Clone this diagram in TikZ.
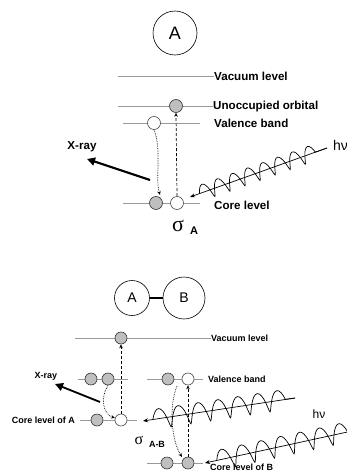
\documentclass[tikz,border=0pt]{standalone}
\usepackage{fontspec}
\setmainfont{Liberation Sans}
\newfontfamily\grk{Liberation Serif}
\usetikzlibrary{decorations.pathmorphing,calc,arrows.meta}
\begin{document}
\begin{tikzpicture}[x=1pt,y=-1pt,
 lvl/.style={draw=black!40, line width=0.7pt},
 full/.style={circle, draw=black!80, fill=black!25, line width=0.6pt, minimum size=13pt, inner sep=0pt},
 empty/.style={circle, draw=black!70, fill=white, line width=0.6pt, minimum size=13pt, inner sep=0pt},
 sfull/.style={full, minimum size=12pt},
 sempty/.style={empty, minimum size=12pt},
 lab/.style={anchor=west, inner sep=0pt, font=\bfseries\fontsize{11.6}{12}\selectfont},
 slab/.style={anchor=west, inner sep=0pt, font=\bfseries\fontsize{9}{9}\selectfont},
 atom/.style={circle, draw, line width=0.6pt, inner sep=0pt},
 exc/.style={densely dashed, line width=0.7pt, -{Stealth[length=4pt,width=3.5pt]}},
 decay/.style={densely dotted, line width=0.7pt, -{Stealth[length=4pt,width=3.5pt]}},
 xray/.style={line width=2.2pt, -{Triangle[length=8pt,width=8pt]}},
 photon/.style={line width=0.7pt, -{Stealth[length=5pt,width=4pt]}},
 coilA/.style={decorate, line width=0.7pt, decoration={coil, amplitude=8pt, segment length=16pt, aspect=0.2}},
 coilB/.style={decorate, line width=0.7pt, decoration={coil, amplitude=10pt, segment length=20pt, aspect=0.2}},
]
\useasboundingbox (0,0) rectangle (347,474);

% ---------------- top: single atom A
\node[atom, minimum size=44pt, font=\fontsize{18}{18}\selectfont] (atA) at (175,33) {A};

\coordinate (vacL) at (118,76);
\node[lab] (vacT) at (214,76) {Vacuum level};
\draw[lvl] (vacL) -- (vacT.west);

\coordinate (unL) at (118,106);
\node[lab] (unT) at (213,106) {Unoccupied orbital};
\draw[lvl] (unL) -- (unT.west);
\node[full] (unE) at (176,106) {};

\coordinate (valL) at (123,123);
\coordinate (valR) at (200,123);
\draw[lvl] (valL) -- (valR);
\node[lab] (valT) at (214,123) {Valence band};
\node[empty] (valH) at (154,123) {};

\coordinate (corL) at (123,203);
\coordinate (corR) at (200,203);
\draw[lvl] (corL) -- (corR);
\node[lab] (corT) at (214,205) {Core level};
\node[full] (corE) at (156,203) {};
\node[empty] (corH) at (177,203) {};

\draw[exc] (corH.north) -- (unE.south);
\draw[decay] (valH.south) .. controls (162,150) and (155,178) .. (160,195);

\coordinate (xrS) at (150,180);
\coordinate (xrE) at (87,159);
\draw[xray] (xrS) -- (xrE);
\node[lab, anchor=center] (xrT) at (82,147) {X-ray};

\coordinate (phS) at (327,148);
\coordinate (phT) at (190,197);
\coordinate (phC) at ($(phT)!10pt!(phS)$);
\draw[photon] (phS) -- (phT);
\draw[coilA] (phC) -- (phS);
\node[anchor=west, inner sep=0pt, font=\fontsize{14}{14}\selectfont] (hvA) at (333,145) {hν};

\node[inner sep=0pt, font=\grk\fontsize{22}{22}\selectfont] (sigA) at (178,226) {σ};
\node[inner sep=0pt, font=\bfseries\fontsize{11}{11}\selectfont] (sigAs) at (194,231) {A};

% ---------------- bottom: A-B
\node[atom, minimum size=35pt, font=\fontsize{14}{14}\selectfont] (aA) at (132,298) {A};
\node[atom, minimum size=42pt, font=\fontsize{14}{14}\selectfont] (aB) at (184,298) {B};
\draw[line width=2.5pt] (aA.east) -- (aB.west);

\coordinate (bvacL) at (75,338);
\node[slab] (bvacT) at (211,338) {Vacuum level};
\draw[lvl] (bvacL) -- (bvacT.west);
\node[sfull] (bvacE) at (121,338) {};

\coordinate (bvlL) at (78,379);
\coordinate (bvlR) at (128,379);
\draw[lvl] (bvlL) -- (bvlR);
\node[sfull] (bv1) at (91,379) {};
\node[sfull] (bv2) at (108,379) {};

\coordinate (bvrL) at (147,379);
\coordinate (bvrR) at (203,379);
\draw[lvl] (bvrL) -- (bvrR);
\node[sfull] (bv3) at (168,379) {};
\node[sempty] (bv4) at (188,379) {};
\node[slab] (bvT) at (208,379) {Valence band};

\node[slab, anchor=east] (bcAT) at (75,420) {Core level of A};
\coordinate (bcAL) at (80,420);
\coordinate (bcAR) at (137,420);
\draw[lvl] (bcAL) -- (bcAR);
\node[sfull] (bcA1) at (97,420) {};
\node[sempty] (bcA2) at (121,420) {};

\coordinate (bcBL) at (147,463);
\coordinate (bcBR) at (203,463);
\draw[lvl] (bcBL) -- (bcBR);
\node[sfull] (bcB1) at (167,463) {};
\node[sfull] (bcB2) at (188,463) {};
\node[slab, anchor=north west] (bcBT) at (210,464) {Core level of B};

\draw[exc] (bcA2.north) -- (bvacE.south);
\draw[exc] (bcB2.north) -- (bv4.south);
\draw[decay] (bv2.south) .. controls (100,398) and (103,414) .. (115,418);
\draw[decay] (177,386) .. controls (169,405) and (171,440) .. (182,457);

\coordinate (bxrS) at (100,402);
\coordinate (bxrE) at (55,384);
\draw[xray, line width=1.8pt] (bxrS) -- (bxrE);
\node[slab, anchor=center] (bxrT) at (46,376) {X-ray};

\coordinate (p1S) at (295,398);
\coordinate (p1T) at (143,421);
\coordinate (p1C) at ($(p1T)!10pt!(p1S)$);
\draw[photon] (p1S) -- (p1T);
\draw[coilB] (p1C) -- (p1S);

\coordinate (p2S) at (352,431);
\coordinate (p2T) at (205,463);
\coordinate (p2C) at ($(p2T)!12pt!(p2S)$);
\draw[photon] (p2S) -- (p2T);
\draw[coilB] (p2C) -- (p2S);

\node[inner sep=0pt, font=\fontsize{12}{12}\selectfont] (hvB) at (319,414) {hν};

\node[inner sep=0pt, font=\grk\fontsize{16}{16}\selectfont] (sigB) at (139,440) {σ};
\node[inner sep=0pt, font=\bfseries\fontsize{9}{9}\selectfont] (sigBs) at (157,444) {A-B};
\end{tikzpicture}
\end{document}
